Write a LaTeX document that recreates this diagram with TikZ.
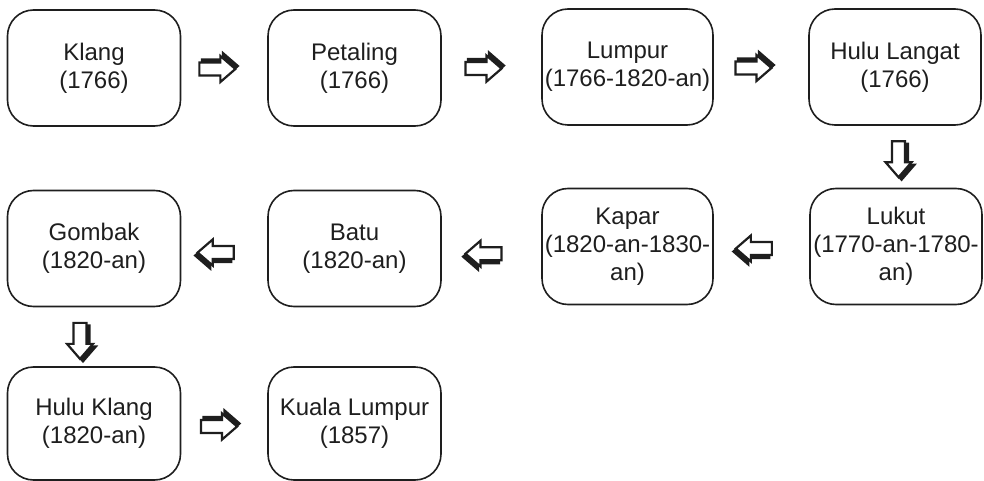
\documentclass[tikz,border=0pt]{standalone}
\usepackage{fontspec}
\setmainfont{Liberation Sans}
\usetikzlibrary{calc}
\definecolor{ink}{HTML}{1E1E1E}
\tikzset{
  box/.style={draw=ink, line width=1.6pt, rounded corners=26pt,
    minimum width=173pt, minimum height=116pt, align=center,
    text=ink, font=\fontsize{24}{28}\selectfont, inner sep=0pt},
  blockarrow/.pic={
    \fill[ink, line width=2.2pt, draw=ink, line join=miter]
      (-15.5,-3.5) -- (5.5,-3.5) -- (5.5,-10) -- (20.5,3) -- (5.5,16) -- (5.5,9.5) -- (-15.5,9.5) -- cycle;
    \draw[ink, line width=2.2pt, line join=miter, fill=white]
      (-18,-6.5) -- (3,-6.5) -- (3,-13) -- (18,0) -- (3,13) -- (3,6.5) -- (-18,6.5) -- cycle;
  }
}
\begin{document}
\begin{tikzpicture}[x=1pt,y=1pt]
\useasboundingbox (0,0) rectangle (984,-481);
% row 1
\node[box] (klang)    at (94,-68)    {Klang\\(1766)};
\node[box] (petaling) at (354.5,-68) {Petaling\\(1766)};
\node[box, minimum width=171pt] (lumpur) at (627.5,-67) {Lumpur\\(1766-1820-an)};
\node[box, minimum width=172pt] (hululangat) at (895,-67) {Hulu Langat\\(1766)};
% row 2
\node[box] (gombak) at (94,-248.5)   {Gombak\\(1820-an)};
\node[box] (batu)   at (354.5,-248.5) {Batu\\(1820-an)};
\node[box, minimum width=171pt] (kapar) at (627.5,-246.5) {Kapar\\(1820-an-1830-\\an)};
\node[box, minimum width=172pt] (lukut) at (896,-246.5) {Lukut\\(1770-an-1780-\\an)};
% row 3
\node[box, minimum height=113pt] (huluklang) at (94,-423.5) {Hulu Klang\\(1820-an)};
\node[box, minimum height=113pt] (kl) at (354.5,-423.5) {Kuala Lumpur\\(1857)};
% arrows
\pic at ($(klang.east)!0.42!(petaling.west)+(0,-1)$) {blockarrow};
\pic at ($(petaling.east)!0.42!(lumpur.west)+(0,-1)$) {blockarrow};
\pic at ($(lumpur.east)!0.42!(hululangat.west)+(0,-1)$) {blockarrow};
\pic[rotate=-90] at ($(hululangat.south)!0.54!(lukut.north)+(3,0)$) {blockarrow};
\pic[rotate=180] at ($(lukut.west)!0.58!(kapar.east)+(0,-2)$) {blockarrow};
\pic[rotate=180] at ($(kapar.west)!0.58!(batu.east)+(0,-6)$) {blockarrow};
\pic[rotate=180] at ($(batu.west)!0.6!(gombak.east)+(0,-4)$) {blockarrow};
\pic[rotate=-90] at ($(gombak.south)!0.57!(huluklang.north)+(-14,0)$) {blockarrow};
\pic at ($(huluklang.east)!0.44!(kl.west)+(0,-3)$) {blockarrow};
\end{tikzpicture}
\end{document}
